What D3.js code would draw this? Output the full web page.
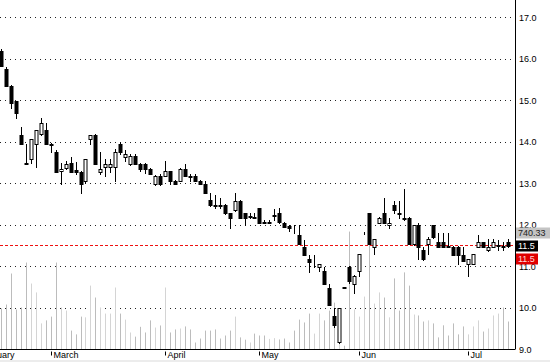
<!DOCTYPE html>
<html>
<head>
<meta charset="utf-8">
<script src="https://cdn.jsdelivr.net/npm/d3@7"></script>
<style>
  body { margin: 0; background: #fff; }
  svg { display: block; font-family: "Liberation Sans", Arial, sans-serif; }
</style>
</head>
<body>
<div id="chart"></div>
<script>
// daily OHLC, one entry per trading day
const opens = [16.20,15.77,15.36,14.98,14.18,13.49,13.58,13.96,14.20,14.28,13.95,13.75,13.29,13.38,13.50,13.32,13.27,13.05,14.08,14.18,
  13.27,13.39,13.40,13.39,13.96,13.63,13.48,13.67,13.48,13.46,13.36,12.98,13.19,13.19,13.29,13.07,13.07,13.36,13.17,13.19,
  13.07,13.00,12.61,12.48,12.47,12.47,12.28,12.37,12.59,12.28,12.20,12.20,12.40,12.07,12.06,12.22,12.28,12.06,11.98,11.93,
  11.77,11.48,11.19,11.00,10.98,10.88,10.49,9.80,9.17,10.50,10.98,10.59,10.88,11.80,12.28,11.48,12.06,12.28,12.00,12.47,
  12.28,12.16,12.18,11.55,11.99,11.39,11.55,11.99,11.58,11.58,11.50,11.48,11.48,11.27,11.07,11.07,11.48,11.58,11.39,11.48,
  11.50,11.49,11.60];
const highs = [16.25,15.80,15.38,15.00,14.35,13.96,14.08,14.30,14.57,14.45,13.98,13.80,13.50,13.55,13.65,13.53,13.29,13.58,14.18,14.20,
  13.75,13.58,13.60,13.84,14.00,13.80,13.70,13.70,13.50,13.50,13.38,13.20,13.24,13.55,13.31,13.09,13.38,13.48,13.24,13.22,
  13.09,13.07,12.76,12.73,12.66,12.50,12.30,12.76,12.61,12.30,12.28,12.28,12.42,12.12,12.11,12.38,12.40,12.08,11.99,11.99,
  11.99,11.65,11.27,11.27,11.07,11.00,10.57,9.99,10.00,10.50,11.02,10.80,11.29,11.82,12.30,11.67,12.20,12.66,12.18,12.59,
  12.57,12.86,12.20,12.00,12.06,11.48,11.70,12.00,11.80,11.80,11.80,11.50,11.50,11.48,11.19,11.29,11.77,11.60,11.67,11.67,
  11.63,11.58,11.67];
const lows = [15.82,15.34,14.81,14.59,13.94,13.48,13.50,13.39,14.18,13.94,13.75,13.27,13.00,13.35,13.27,13.24,12.78,13.02,13.96,13.46,
  13.24,13.19,13.27,13.07,13.72,13.55,13.45,13.46,13.31,13.25,13.22,12.96,12.96,13.17,12.98,12.98,13.05,13.17,13.07,13.05,
  12.98,12.76,12.45,12.40,12.40,12.26,11.92,12.33,12.16,12.00,12.16,12.16,12.04,12.04,12.04,12.13,12.06,11.96,11.85,11.80,
  11.55,11.27,10.86,10.98,10.90,10.59,10.08,9.55,9.15,10.48,10.61,10.37,10.78,11.78,11.55,11.31,12.04,12.04,11.92,12.30,
  12.16,12.13,11.55,11.53,11.19,11.15,11.31,11.69,11.48,11.48,11.46,11.27,11.07,11.14,10.78,11.05,11.46,11.46,11.37,11.46,
  11.39,11.40,11.48];
const closes = [15.84,15.36,14.95,14.69,13.96,13.48,14.08,14.28,14.45,13.96,13.93,13.27,13.36,13.48,13.27,13.27,13.00,13.58,14.18,13.48,
  13.36,13.48,13.48,13.75,13.75,13.72,13.67,13.48,13.36,13.36,13.24,13.19,12.98,13.29,13.07,13.00,13.36,13.19,13.15,13.07,
  13.00,12.78,12.47,12.46,12.45,12.28,12.18,12.59,12.18,12.18,12.21,12.18,12.06,12.06,12.07,12.25,12.08,11.96,11.92,11.92,
  11.55,11.27,11.10,11.00,11.07,10.59,10.08,9.58,9.99,10.49,10.66,10.78,11.29,11.80,11.55,11.67,12.18,12.06,12.06,12.37,
  12.27,12.15,11.55,11.99,11.48,11.17,11.67,11.70,11.48,11.48,11.48,11.27,11.27,11.14,11.17,11.29,11.58,11.48,11.46,11.58,
  11.51,11.48,11.50];
const volumes = [1085,1190,2010,1060,1110,2300,1745,1510,690,770,870,2300,1110,1030,500,400,870,850,1690,1375,
  1110,950,950,1640,950,790,450,340,600,450,770,580,635,1640,450,530,555,610,530,185,
  290,500,500,530,290,370,500,870,320,260,185,420,370,370,280,300,265,290,185,500,
  790,715,950,420,950,770,1030,1240,160,100,3120,1060,870,1400,3120,1215,1510,1375,850,1880,
  1030,2040,1690,925,900,740,770,690,320,640,370,690,400,610,400,610,770,475,555,900,
  950,1110,740.33];

// month labels and the trading-day index where each month starts
const monthNames = ["February", "March", "April", "May", "Jun", "Jul"];
const monthStarts = [-5, 10, 33, 52, 72, 94];
const priceTicks = [9, 10, 11, 12, 13, 14, 15, 16, 17];
const markLevel = 11.5;

const W = 550, H = 362;
const plotRight = 515, plotBottom = 349.5;

const svg = d3.select("#chart").append("svg")
  .attr("width", W).attr("height", H);

svg.append("rect").attr("x", 0).attr("y", 360).attr("width", W).attr("height", 2).attr("fill", "#ececec");

const n = opens.length;
const x = d3.scaleLinear().domain([0, n]).range([1, 1 + 4.97 * n]);
const y = d3.scaleLinear().domain([9, 17]).range([349.5, 17.5]);
const yVol = d3.scaleLinear().domain([0, 3000]).range([plotBottom, plotBottom - 113.4]);

const px = i => Math.round(x(i)) + 0.5;
const crisp = v => Math.floor(v) + 0.5;

const data = opens.map((o, i) => ({i, o, h: highs[i], l: lows[i], c: closes[i], v: volumes[i]}));

// dotted grid
svg.append("g").selectAll("line")
  .data(priceTicks.filter(d => d > 9))
  .join("line")
    .attr("x1", 0).attr("x2", plotRight)
    .attr("y1", d => crisp(y(d))).attr("y2", d => crisp(y(d)))
    .attr("stroke", "#222")
    .attr("stroke-dasharray", "1,4");

// volume
svg.append("g").selectAll("line")
  .data(data)
  .join("line")
    .attr("x1", d => px(d.i)).attr("x2", d => px(d.i))
    .attr("y1", plotBottom - 0.5).attr("y2", d => yVol(d.v))
    .attr("stroke", d => d.c >= d.o ? "#d4d4d4" : "#bcbcbc");

// marker line at 11.5
svg.append("line")
  .attr("x1", 0).attr("x2", plotRight)
  .attr("y1", crisp(y(markLevel))).attr("y2", crisp(y(markLevel)))
  .attr("stroke", "#ee1111")
  .attr("stroke-width", 1.2)
  .attr("shape-rendering", "crispEdges")
  .attr("stroke-dasharray", "3,2");

// candles
const candles = svg.append("g").selectAll("g")
  .data(data)
  .join("g");

candles.append("line")
  .attr("x1", d => px(d.i)).attr("x2", d => px(d.i))
  .attr("y1", d => Math.round(y(d.h))).attr("y2", d => Math.round(y(d.l)) + 1)
  .attr("stroke", "#000");

candles.append("rect")
  .attr("x", d => px(d.i) - 1.5)
  .attr("width", 3)
  .attr("y", d => Math.round(y(Math.max(d.o, d.c))) + 0.5)
  .attr("height", d => Math.max(0, Math.round(y(Math.min(d.o, d.c))) - Math.round(y(Math.max(d.o, d.c)))))
  .attr("fill", d => d.c > d.o ? "#fff" : "#000")
  .attr("stroke", "#000");

// frame
svg.append("line")
  .attr("x1", plotRight + 0.5).attr("x2", plotRight + 0.5)
  .attr("y1", 0).attr("y2", plotBottom)
  .attr("stroke", "#000");

// month axis
const monthAxis = d3.axisBottom(x)
  .tickValues(monthStarts)
  .tickFormat((d, k) => monthNames[k])
  .tickSizeOuter(0);

const gx = svg.append("g")
  .attr("transform", `translate(0,${plotBottom})`)
  .call(monthAxis);
gx.select(".domain").attr("d", `M0,0H${plotRight}`).attr("stroke", "#000");
gx.selectAll(".tick").attr("transform", d => `translate(${px(d)},0)`);
gx.selectAll(".tick line").attr("y1", 2).attr("y2", 6).attr("stroke", "#000");
gx.selectAll(".tick text")
  .attr("text-anchor", "start")
  .attr("x", 2).attr("y", 2).attr("dy", "0.71em")
  .attr("fill", "#000")
  .style("font-size", "9px")
  .style("font-family", "'Liberation Sans', Arial, sans-serif");

// price labels
svg.append("g").selectAll("text")
  .data(priceTicks)
  .join("text")
    .attr("x", 519)
    .attr("y", d => y(d))
    .attr("dy", "0.35em")
    .attr("font-size", 9)
    .attr("fill", "#000")
    .text(d => d.toFixed(1));

// value flags on the right
const lastClose = closes[n - 1];
const flagY = Math.round(y(lastClose));
const flags = [
  {text: d3.format(".2f")(volumes[n - 1]), dy: -13, w: 34, fill: "#c4c4c4", color: "#222"},
  {text: String(lastClose), dy: 0, w: 22, fill: "#000", color: "#fff"},
  {text: String(markLevel), dy: 13, w: 22, fill: "#e00000", color: "#ffd8d8"}
];
const fg = svg.append("g").selectAll("g").data(flags).join("g")
  .attr("transform", d => `translate(516,${flagY + d.dy - 5.5})`);
fg.append("rect").attr("width", d => d.w).attr("height", 11).attr("fill", d => d.fill);
fg.append("text")
  .attr("x", 2).attr("y", 5.5).attr("dy", "0.35em")
  .attr("font-size", 9)
  .attr("fill", d => d.color)
  .text(d => d.text);
</script>
</body>
</html>
